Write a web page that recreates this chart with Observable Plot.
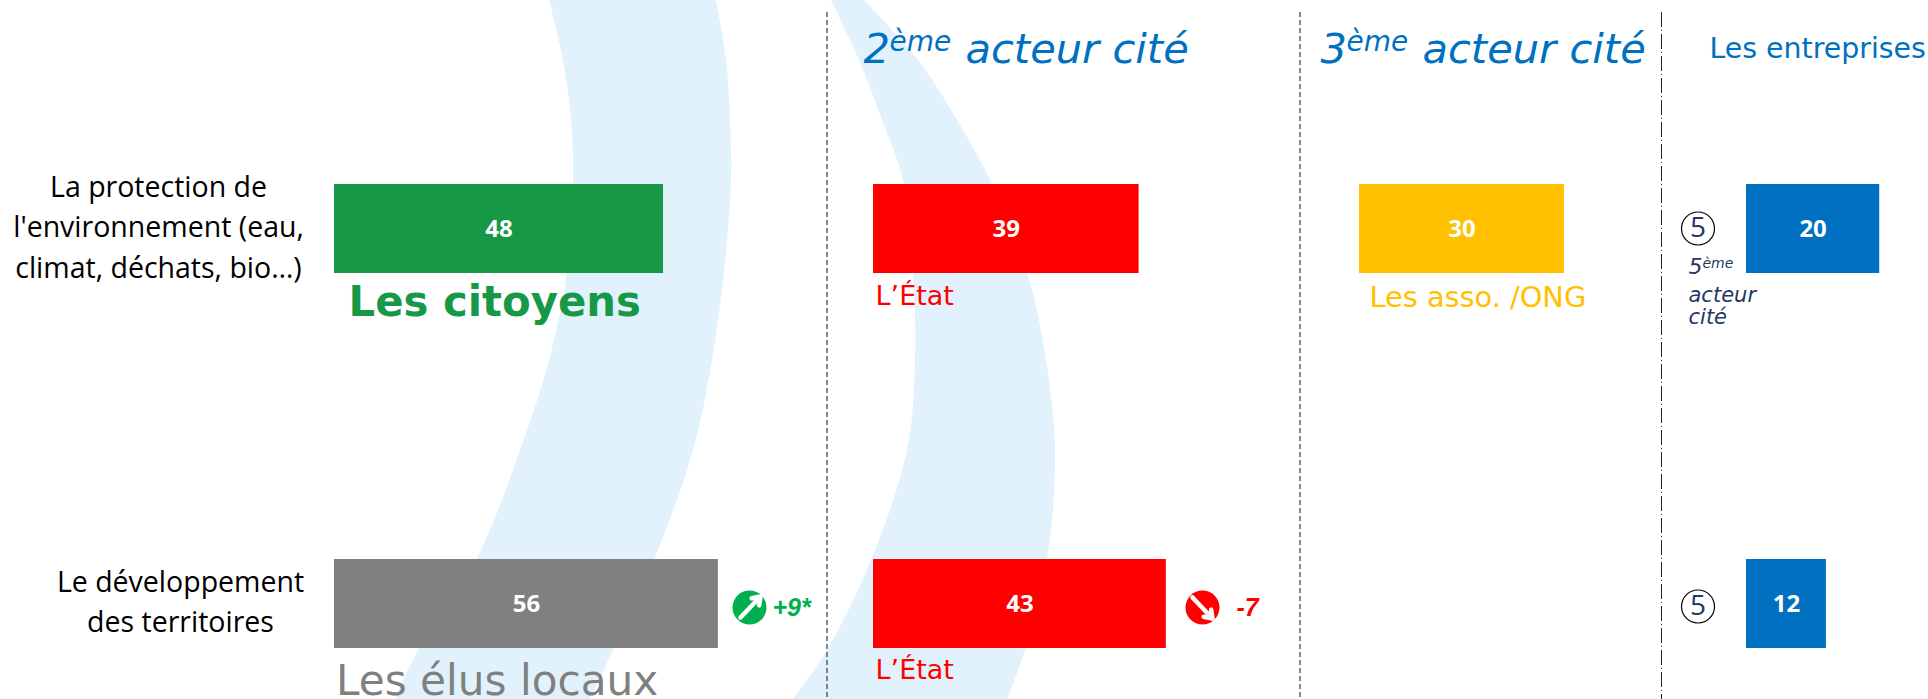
<!DOCTYPE html>
<html lang="fr">
<head>
<meta charset="utf-8">
<script src="https://cdn.jsdelivr.net/npm/d3@7"></script>
<script src="https://cdn.jsdelivr.net/npm/@observablehq/plot@0.6"></script>
<style>
html,body{margin:0;padding:0;background:#fff}
#chart{position:relative;width:1928px;height:699px;overflow:hidden}
#chart svg{position:absolute;top:0;background:transparent}
</style>
</head>
<body>
<div id="chart"></div>
<script>
// Data
const topics = ["La protection de\nl'environnement (eau,\nclimat, déchats, bio…)", "Le développement\ndes territoires"];
const firstActorValues = [48, 56];
const secondActorValues = [39, 43];
const thirdActorValues = [30];
const companyValues = [20, 12];
const firstActorColors = ["#179847", "#808080"];
const secondActorColor = "#ff0000";
const thirdActorColor = "#ffc000";
const companyColor = "#0070c0";

// Decorative background swooshes
const swooshOneY     = [0, 60, 120, 180, 272, 360, 450, 560, 650, 699];
const swooshOneLeft  = [549, 563, 571, 573, 567, 549, 520, 476, 418, 395];
const swooshOneRight = [716, 726, 730, 731, 724, 712, 693, 654, 613, 590];
const swooshTwoY     = [0, 60, 120, 184, 272, 360, 450, 560, 650, 699];
const swooshTwoLeft  = [831, 859, 882, 904, 913, 915, 907, 871, 827, 793];
const swooshTwoRight = [864, 918, 957, 992, 1027, 1046, 1055, 1047, 1025, 1007];

const W = 1928, H = 699;
const chart = document.getElementById("chart");
const SANS = "'DejaVu Sans'", BODY = "'Open Sans'", BADGE = "'Liberation Sans'";

function label(text, x, baseline, size, fill, extra = {}) {
  return Plot.text([text], {
    x, y: baseline - 0.32 * size, text: d => d, fontSize: size, fill,
    fontFamily: SANS, textAnchor: "start", lineAnchor: "middle", ...extra
  });
}
function swoosh(ys, lefts, rights) {
  const rows = ys.map((y, i) => ({y, l: lefts[i], r: rights[i]}));
  return Plot.areaX(rows, {y: "y", x1: "l", x2: "r", fill: "#e1f2fd", curve: "catmull-rom"});
}
const oblique = {fontStyle: "italic"};
const titleBlue = "#0070c0", navy = "#1f3864";

// Full-frame layer: background, separators, titles, captions and badges
const layer = Plot.plot({
  width: W, height: H, margin: 0,
  x: {domain: [0, W], range: [0, W], axis: null},
  y: {domain: [0, H], range: [0, H], axis: null},
  marks: [
    swoosh(swooshOneY, swooshOneLeft, swooshOneRight),
    swoosh(swooshTwoY, swooshTwoLeft, swooshTwoRight),

    Plot.ruleX([826.5, 1299.5], {y1: 12, y2: 699, stroke: "#111", strokeWidth: 1, strokeDasharray: "5 3"}),
    Plot.ruleX([1661], {y1: 12, y2: 699, stroke: "#111", strokeWidth: 0.9, strokeDasharray: "15 3 1 3"}),

    Plot.text([topics[0]], {x: 158, y: 224, text: d => d, fontFamily: BODY, fontSize: 28.5, lineHeight: 1.41, fill: "#000", textAnchor: "middle"}),
    Plot.text([topics[1]], {x: 180, y: 599, text: d => d, fontFamily: BODY, fontSize: 28.5, lineHeight: 1.41, fill: "#000", textAnchor: "middle"}),

    label("2", 863, 62, 41.6, titleBlue, oblique),
    label("ème", 889, 50, 28, titleBlue, oblique),
    label("acteur cité", 965, 62, 41.6, titleBlue, oblique),
    label("3", 1320, 62, 41.6, titleBlue, oblique),
    label("ème", 1346, 50, 28, titleBlue, oblique),
    label("acteur cité", 1422, 62, 41.6, titleBlue, oblique),
    label("Les entreprises", 1709, 57, 28.4, titleBlue),

    label("Les citoyens", 348, 315, 41.8, firstActorColors[0], {fontWeight: "bold"}),
    label("Les élus locaux", 335.5, 694, 42.2, firstActorColors[1]),
    label("L’État", 875, 304, 27, secondActorColor),
    label("L’État", 875, 678, 27, secondActorColor),
    label("Les asso. /ONG", 1369, 306, 28.8, thirdActorColor),

    Plot.dot([228, 606], {x: 1697.5, y: d => d, r: 16.5, stroke: "#000", strokeWidth: 1.2, fill: "#fff"}),
    Plot.text([228, 606], {x: 1697.5, y: d => d, text: () => "5", fontFamily: BODY, fontSize: 28, fill: navy}),
    label("5", 1688, 273, 22, navy, oblique),
    label("ème", 1702, 267, 14, navy, oblique),
    label("acteur", 1688, 301, 21, navy, oblique),
    label("cité", 1688, 323, 21, navy, oblique),

    Plot.dot([0], {x: 749, y: 607, r: 17, fill: "#00b050"}),
    Plot.arrow([0], {x1: 740, y1: 617, x2: 760, y2: 596, stroke: "#fff", strokeWidth: 4.5, headLength: 3, headAngle: 70}),
    label("+9*", 772, 615, 25, "#00b050", {fontFamily: BADGE, fontWeight: "bold", fontStyle: "italic"}),
    Plot.dot([0], {x: 1202, y: 607, r: 17, fill: "#ff0000"}),
    Plot.arrow([0], {x1: 1192, y1: 597, x2: 1212, y2: 618, stroke: "#fff", strokeWidth: 4.5, headLength: 3, headAngle: 70}),
    label("-7", 1236, 615, 25, "#ff0000", {fontFamily: BADGE, fontWeight: "bold", fontStyle: "italic"})
  ]
});
chart.appendChild(layer);

// One bar panel per column, each with its own linear scale, as in the source slide
function panel(values, colors, left, pixelsPerPoint) {
  const rows = values.map((value, i) => ({topic: topics[i], value, color: colors[i] ?? colors[0]}));
  const width = Math.ceil(d3.max(values) * pixelsPerPoint);
  const svg = Plot.plot({
    width, height: H, margin: 0,
    x: {domain: [0, width / pixelsPerPoint], range: [0, width], axis: null},
    y: {type: "band", domain: topics, range: [184, 648], paddingInner: 0.764, paddingOuter: 0, axis: null},
    marks: [
      Plot.barX(rows, {x: "value", y: "topic", fill: d => d.color}),
      Plot.text(rows, {x: d => d.value / 2, y: "topic", text: "value", fill: "#fff",
        fontFamily: BODY, fontWeight: "bold", fontSize: 24})
    ]
  });
  svg.style.left = left + "px";
  chart.appendChild(svg);
}
panel(firstActorValues, firstActorColors, 334, 6.855);
panel(secondActorValues, [secondActorColor], 872.5, 6.81);
panel(thirdActorValues, [thirdActorColor], 1359, 6.83);
panel(companyValues, [companyColor], 1746, 6.66);
</script>
</body>
</html>
